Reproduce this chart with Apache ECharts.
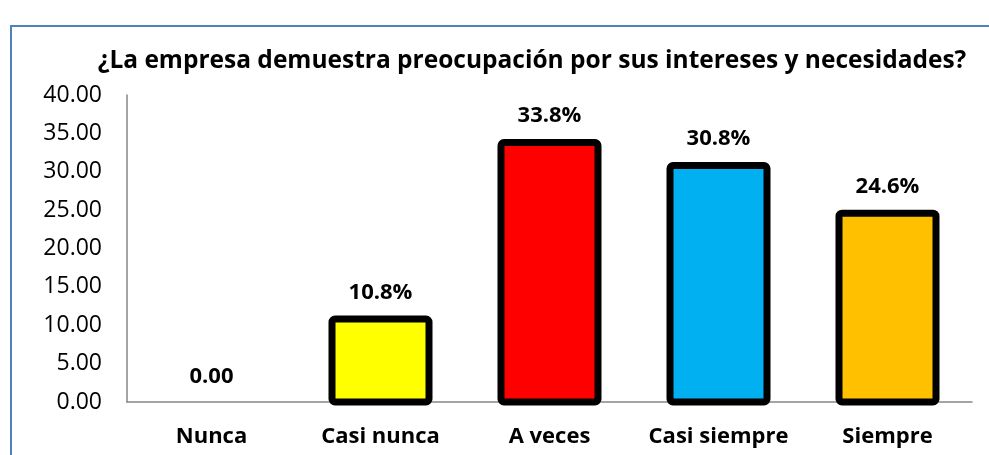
<!DOCTYPE html>
<html>
<head>
<meta charset="utf-8">
<script src="https://cdn.jsdelivr.net/npm/echarts@6/dist/echarts.min.js"></script>
<style>
  html, body { margin: 0; padding: 0; background: #fff; }
  .chart-box { position: relative; width: 989px; height: 455px; }
  .frame {
    position: absolute; left: 10px; top: 25px; width: 1000px; height: 460px;
    border: 2px solid #4f81bd; box-sizing: border-box;
  }
  #chart { position: absolute; left: 0; top: 0; width: 989px; height: 455px; }
</style>
</head>
<body>
<div class="chart-box">
  <div class="frame"></div>
  <div id="chart"></div>
</div>
<script>
const categories = ["Nunca", "Casi nunca", "A veces", "Casi siempre", "Siempre"];
const values = [0, 10.8, 33.8, 30.8, 24.6];
const barColors = ["#ffffff", "#ffff00", "#ff0000", "#00b0f0", "#ffc000"];
const yTicks = { min: 0, max: 40, interval: 5 };

var myChart = echarts.init(document.getElementById("chart"));
const font = "'Open Sans', Lato, sans-serif";

// bars drawn as custom rects so the thick border sits centred on the edge (like Excel)
const renderBar = (params, api) => {
  const i = api.value(0);
  const v = api.value(1);
  const top = api.coord([i, v]);
  const base = api.coord([i, 0]);
  const w = 97;
  return {
    type: "rect",
    shape: { x: top[0] - w / 2, y: top[1], width: w, height: base[1] - top[1], r: 3 },
    style: {
      fill: v === 0 ? "transparent" : barColors[i],
      stroke: "#000",
      lineWidth: v === 0 ? 0 : 7,
    },
    textContent: {
      style: {
        text: v === 0 ? "0.00" : v.toFixed(1) + "%",
        fontFamily: font,
        fontWeight: "bold",
        fontSize: 22,
        fill: "#000",
      },
    },
    textConfig: { position: "top", distance: v === 0 ? 14 : 12 },
  };
};

var option = {
  animation: false,
  title: {
    text: "¿La empresa demuestra preocupación por sus intereses y necesidades?",
    left: 527,
    textAlign: "center",
    top: 44,
    textStyle: { fontFamily: font, fontWeight: "bold", fontSize: 24.5, color: "#000" },
  },
  grid: { left: 127, right: 17, top: 95, bottom: 53 },
  xAxis: {
    type: "category",
    data: categories,
    axisLine: { lineStyle: { color: "#868686", width: 1.5 } },
    axisTick: { show: false },
    axisLabel: {
      interval: 0, margin: 24,
      fontFamily: font, fontWeight: "bold", fontSize: 22, color: "#000",
    },
  },
  yAxis: {
    type: "value",
    min: yTicks.min,
    max: yTicks.max,
    interval: yTicks.interval,
    splitLine: { show: false },
    axisLine: { show: true, lineStyle: { color: "#868686", width: 1.5 } },
    axisTick: { show: false },
    axisLabel: {
      margin: 25,
      fontFamily: font, fontSize: 23, color: "#000",
      formatter: (v) => v.toFixed(2),
    },
  },
  series: [
    {
      type: "custom",
      renderItem: renderBar,
      encode: { x: 0, y: 1 },
      data: values.map((v, i) => [i, v]),
      z: 3,
    },
  ],
};

option && myChart.setOption(option);
</script>
</body>
</html>
